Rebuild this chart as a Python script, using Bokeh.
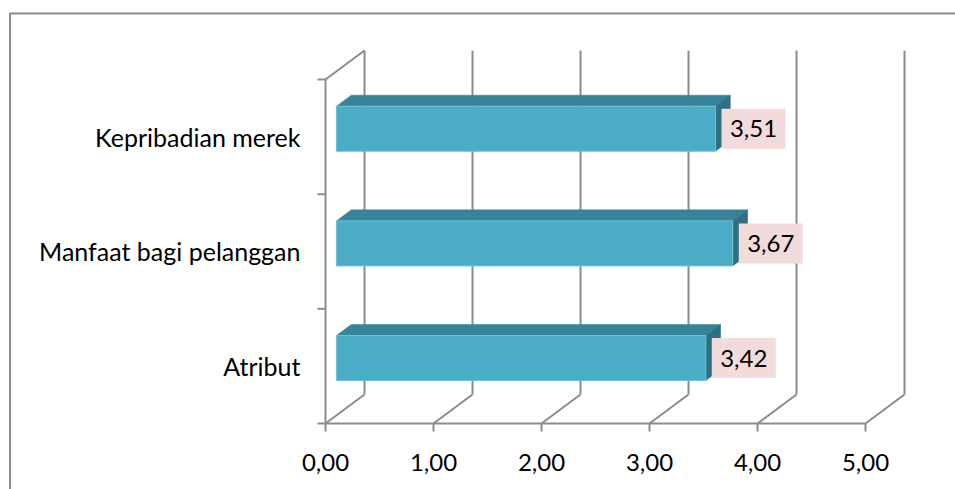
from bokeh.plotting import figure
from bokeh.models import Range1d, ColumnDataSource
from bokeh.core.properties import value
from bokeh.embed import file_html
from bokeh.resources import INLINE

# ---- data -------------------------------------------------------------
categories = ["Atribut", "Manfaat bagi pelanggan", "Kepribadian merek"]
scores = [3.42, 3.67, 3.51]
tick_values = [0, 1, 2, 3, 4, 5]
tick_labels = ["0,00", "1,00", "2,00", "3,00", "4,00", "5,00"]

# ---- layout (pixels) ----------------------------------------------------
W, H = 955, 489
X0_PX, UNIT_PX = 325, 108.0      # pixel of value 0, pixels per unit
Y0_PX, SLOT_PX = 423, 114.67     # pixel of the floor, pixels per category slot

# data-unit helpers
def dx(px):
    return px / UNIT_PX

def dy(px):
    return px / SLOT_PX

DEPTH_X, DEPTH_Y = dx(39), dy(29)   # 3-D depth of the walls
BAR_FRONT = 0.28                    # bar front position within the depth
BAR_DEPTH = 0.38                    # bar thickness within the depth
BAR_HALF = dy(45) / 2

GRID = "#8C8C8C"
FRONT = "#4BACC6"
TOP = "#37839A"
SIDE = "#2E7082"
LABEL_BG = "#F2DCDB"
FONT = "Lato"

p = figure(width=W, height=H, output_backend="svg", toolbar_location=None,
           x_range=Range1d(-X0_PX / UNIT_PX, (W - X0_PX) / UNIT_PX),
           y_range=Range1d(-(H - Y0_PX) / SLOT_PX, Y0_PX / SLOT_PX),
           min_border=0, min_border_left=0, min_border_right=0,
           min_border_top=0, min_border_bottom=0)
p.axis.visible = False
p.grid.visible = False
p.outline_line_color = None
p.background_fill_color = "white"
p.border_fill_color = "white"

n = len(categories)

# chart area border (top and left edges)
p.line([dx(9 - X0_PX), dx(W - X0_PX)], [dy(Y0_PX - 13)] * 2,
       line_color=GRID, line_width=2)
p.line([dx(9.5 - X0_PX)] * 2, [dy(Y0_PX - 13), dy(Y0_PX - H)],
       line_color=GRID, line_width=2)

# back-wall gridlines and floor diagonals
for t in tick_values:
    p.line([t + DEPTH_X] * 2, [DEPTH_Y, n + DEPTH_Y], line_color=GRID, line_width=2)
    p.line([t, t + DEPTH_X], [0, DEPTH_Y], line_color=GRID, line_width=2)

# left wall: front edge and top diagonal
p.line([0, 0], [0, n], line_color=GRID, line_width=2)
p.line([0, DEPTH_X], [n, n + DEPTH_Y], line_color=GRID, line_width=2)
# floor front edge
p.line([0, tick_values[-1]], [0, 0], line_color=GRID, line_width=2)

# tick marks
for k in range(n + 1):
    p.line([-dx(8), 0], [k, k], line_color=GRID, line_width=2)
for t in tick_values:
    p.line([t, t], [0, -dy(8)], line_color=GRID, line_width=2)

# 3-D bars
x0 = BAR_FRONT * DEPTH_X
bx, by = BAR_DEPTH * DEPTH_X, BAR_DEPTH * DEPTH_Y
front_xs, front_ys, top_xs, top_ys, side_xs, side_ys = [], [], [], [], [], []
lab_x, lab_y, lab_t = [], [], []
for i, v in enumerate(scores):
    c = i + 0.5 + BAR_FRONT * DEPTH_Y
    lo, hi = c - BAR_HALF, c + BAR_HALF
    x1 = x0 + v
    front_xs.append([x0, x1, x1, x0]); front_ys.append([lo, lo, hi, hi])
    top_xs.append([x0, x1, x1 + bx, x0 + bx]); top_ys.append([hi, hi, hi + by, hi + by])
    side_xs.append([x1, x1 + bx, x1 + bx, x1]); side_ys.append([lo, lo + by, hi + by, hi])
    lab_x.append(x1 + dx(6 + 32)); lab_y.append(c)
    lab_t.append(f"{v:.2f}".replace(".", ","))

p.patches(top_xs, top_ys, fill_color=TOP, line_color=TOP, line_width=0.5)
p.patches(side_xs, side_ys, fill_color=SIDE, line_color=SIDE, line_width=0.5)
p.patches(front_xs, front_ys, fill_color=FRONT, line_color="#6CC0D6", line_width=1)

# value labels
lab = ColumnDataSource(dict(x=lab_x, y=lab_y, t=lab_t))
p.rect("x", "y", width=dx(64), height=dy(40), source=lab,
       fill_color=LABEL_BG, line_color=None)
p.text("x", "y", text="t", source=lab, text_font=value(FONT),
       text_font_size="24px", text_align="center", text_baseline="middle",
       text_color="black")

# category labels
cat = ColumnDataSource(dict(x=[-dx(25)] * n, y=[i + 0.5 for i in range(n)], t=categories))
p.text("x", "y", text="t", source=cat, text_font=value(FONT),
       text_font_size="25px", text_align="right", text_baseline="middle",
       text_color="black")

# value axis labels
tk = ColumnDataSource(dict(x=tick_values, y=[-dy(39)] * len(tick_values), t=tick_labels))
p.text("x", "y", text="t", source=tk, text_font=value(FONT),
       text_font_size="24px", text_align="center", text_baseline="middle",
       text_color="black")

open("out.html", "w").write(file_html(p, INLINE))
